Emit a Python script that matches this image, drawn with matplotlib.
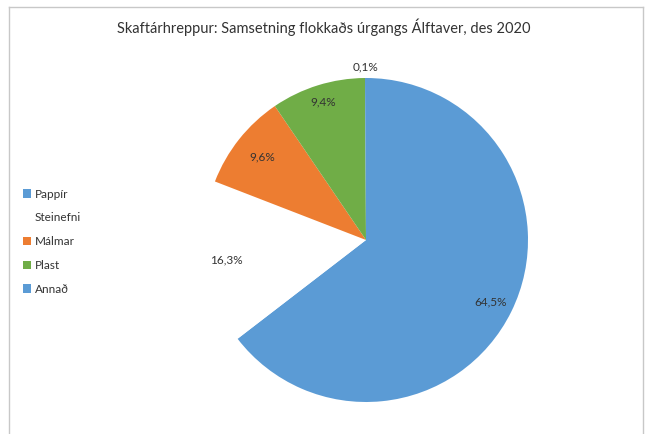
import numpy as np
import matplotlib.pyplot as plt
from matplotlib.patches import Patch
from matplotlib.lines import Line2D

plt.rcParams['font.family'] = ['Lato', 'DejaVu Sans']

categories = ['Pappír', 'Steinefni', 'Málmar', 'Plast', 'Annað']
shares = [64.5, 16.3, 9.6, 9.4, 0.1]
pct_labels = ['64,5%', '16,3%', '9,6%', '9,4%', '0,1%']
colors = ['#5b9bd5', '#ffffff', '#ed7d31', '#70ad47', '#5b9bd5']
label_dist = [0.86, 0.87, 0.82, 0.89, 1.07]

fig = plt.figure(figsize=(6.47, 4.34), dpi=100)

# chart frame (light grey, open at the bottom like the cropped original)
frame_color = '#c8c8c8'
fig.add_artist(Line2D([9/647, 643/647], [1 - 7/434, 1 - 7/434], color=frame_color, lw=1))
fig.add_artist(Line2D([9/647, 9/647], [0, 1 - 7/434], color=frame_color, lw=1))
fig.add_artist(Line2D([643/647, 643/647], [0, 1 - 7/434], color=frame_color, lw=1))

cx, cy, r = 366, 240, 162
ax = fig.add_axes([(cx - r) / 647, (434 - cy - r) / 434, 2 * r / 647, 2 * r / 434])
wedges, _ = ax.pie(shares, colors=colors, startangle=90, counterclock=False,
                   radius=1.0, wedgeprops=dict(linewidth=0))
ax.set_xlim(-1, 1)
ax.set_ylim(-1, 1)
ax.set_aspect('equal')
ax.axis('off')

for w, txt, d in zip(wedges, pct_labels, label_dist):
    mid = np.deg2rad((w.theta1 + w.theta2) / 2)
    ax.text(d * np.cos(mid), d * np.sin(mid), txt, ha='center', va='center',
            fontsize=8.5, color='#333333', clip_on=False)

fig.text(0.5, 1 - 27/434, 'Skaftárhreppur: Samsetning flokkaðs úrgangs Álftaver, des 2020',
         ha='center', va='center', fontsize=10.5, color='#333333')

handles = [Patch(facecolor=c, edgecolor='none') for c in colors]
fig.legend(handles, categories, loc='upper left', bbox_to_anchor=(12/647, 1 - 178/434),
           frameon=False, fontsize=8.5, labelspacing=1.08, handlelength=0.7,
           handleheight=0.7, handletextpad=0.35, labelcolor='#333333')

fig.savefig('out.png', dpi=100)
